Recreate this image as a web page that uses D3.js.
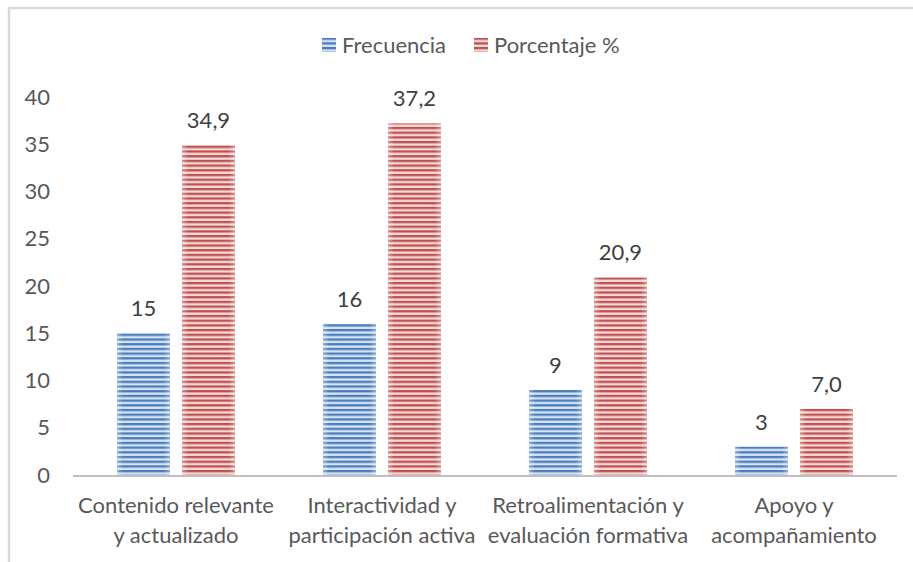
<!DOCTYPE html>
<html><head><meta charset="utf-8">
<script src="https://cdn.jsdelivr.net/npm/d3@7"></script>
<style>body{margin:0;background:#fff}svg{display:block}text{font-family:Lato,"Noto Sans",sans-serif}</style>
</head><body><svg id="c" width="913" height="562"></svg>
<script>
const categories = [["Contenido relevante","y actualizado"],["Interactividad y","participación activa"],["Retroalimentación y","evaluación formativa"],["Apoyo y","acompañamiento"]];
const frecuencia = [15, 16, 9, 3];
const porcentaje = [34.9, 37.2, 20.9, 7.0];
const seriesNames = ["Frecuencia", "Porcentaje %"];
const yTicks = [0,5,10,15,20,25,30,35,40];

const svg = d3.select("#c");
const W = 913, H = 562;
const m = {left:73, right:16, top:97, bottom:87};
const FS = 22;
const defs = svg.append("defs");
function stripe(id, dark, light){
  const p = defs.append("pattern").attr("id",id).attr("patternUnits","userSpaceOnUse").attr("width",8).attr("height",4.7);
  p.append("rect").attr("width",8).attr("height",4.7).attr("fill",light);
  p.append("rect").attr("y",0).attr("width",8).attr("height",2.3).attr("fill",dark);
}
stripe("pb","#4a7dbb","#d6e3f3");
stripe("pr","#c0504d","#f3dad9");
const eg = defs.append("linearGradient").attr("id","edge").attr("x1","0").attr("x2","1");
eg.append("stop").attr("offset","0").attr("stop-color","#fff").attr("stop-opacity",0.35);
eg.append("stop").attr("offset","0.12").attr("stop-color","#fff").attr("stop-opacity",0);
eg.append("stop").attr("offset","0.88").attr("stop-color","#fff").attr("stop-opacity",0);
eg.append("stop").attr("offset","1").attr("stop-color","#fff").attr("stop-opacity",0.35);

// frame
svg.append("path").attr("d",`M9,${H} V8 H${W}`).attr("fill","none").attr("stroke","#d9d9d9").attr("stroke-width",2.5);

const x0 = d3.scaleBand().domain(d3.range(categories.length)).range([m.left, W-m.right]).paddingInner(0).paddingOuter(0);
const y = d3.scaleLinear().domain([0,40]).range([475, 97]);
const bw = 53, gap = 12;

// y tick labels
svg.append("g").selectAll("text").data(yTicks).join("text")
  .attr("x",50).attr("y",d=>y(d)).attr("dy","0.35em").attr("text-anchor","end")
  .attr("font-size",FS).attr("fill","#595959").text(d=>d);

const series = [frecuencia, porcentaje];
const fills = ["url(#pb)","url(#pr)"];
const fmt = [d=>String(d), d=>d.toFixed(1).replace(".",",")];
series.forEach((vals,s)=>{
  const g = svg.append("g");
  const xs = i => x0(i) + x0.bandwidth()/2 + (s===0 ? -gap/2-bw : gap/2);
  g.selectAll("rect.b").data(vals).join("rect").attr("class","b")
    .attr("x",(d,i)=>xs(i)).attr("width",bw).attr("y",d=>y(d)).attr("height",d=>y(0)-y(d)).attr("fill",fills[s]);
  g.selectAll("rect.e").data(vals).join("rect").attr("class","e")
    .attr("x",(d,i)=>xs(i)).attr("width",bw).attr("y",d=>y(d)).attr("height",d=>y(0)-y(d)).attr("fill","url(#edge)");
  g.selectAll("text").data(vals).join("text")
    .attr("x",(d,i)=>xs(i)+bw/2).attr("y",d=>y(d)-17).attr("text-anchor","middle")
    .attr("font-size",FS).attr("fill","#404040").text(fmt[s]);
});

// axis line
svg.append("line").attr("x1",m.left).attr("x2",W-m.right).attr("y1",y(0)+1).attr("y2",y(0)+1)
  .attr("stroke","#bfbfbf").attr("stroke-width",2);

// category labels
const cl = svg.append("g").selectAll("text").data(categories).join("text")
  .attr("x",(d,i)=>x0(i)+x0.bandwidth()/2).attr("y",513).attr("text-anchor","middle")
  .attr("font-size",FS).attr("fill","#595959");
cl.selectAll("tspan").data(d=>d).join("tspan")
  .attr("x",function(){return this.parentNode.getAttribute("x");})
  .attr("dy",(d,i)=>i===0?0:30).text(d=>d);

// legend
const leg = svg.append("g");
const lx = [322, 474];
seriesNames.forEach((n,i)=>{
  leg.append("rect").attr("x",lx[i]).attr("y",38).attr("width",14).attr("height",14).attr("fill",fills[i]);
  leg.append("text").attr("x",lx[i]+20).attr("y",45).attr("dy","0.35em").attr("font-size",FS).attr("fill","#595959").text(n);
});
</script></body></html>
